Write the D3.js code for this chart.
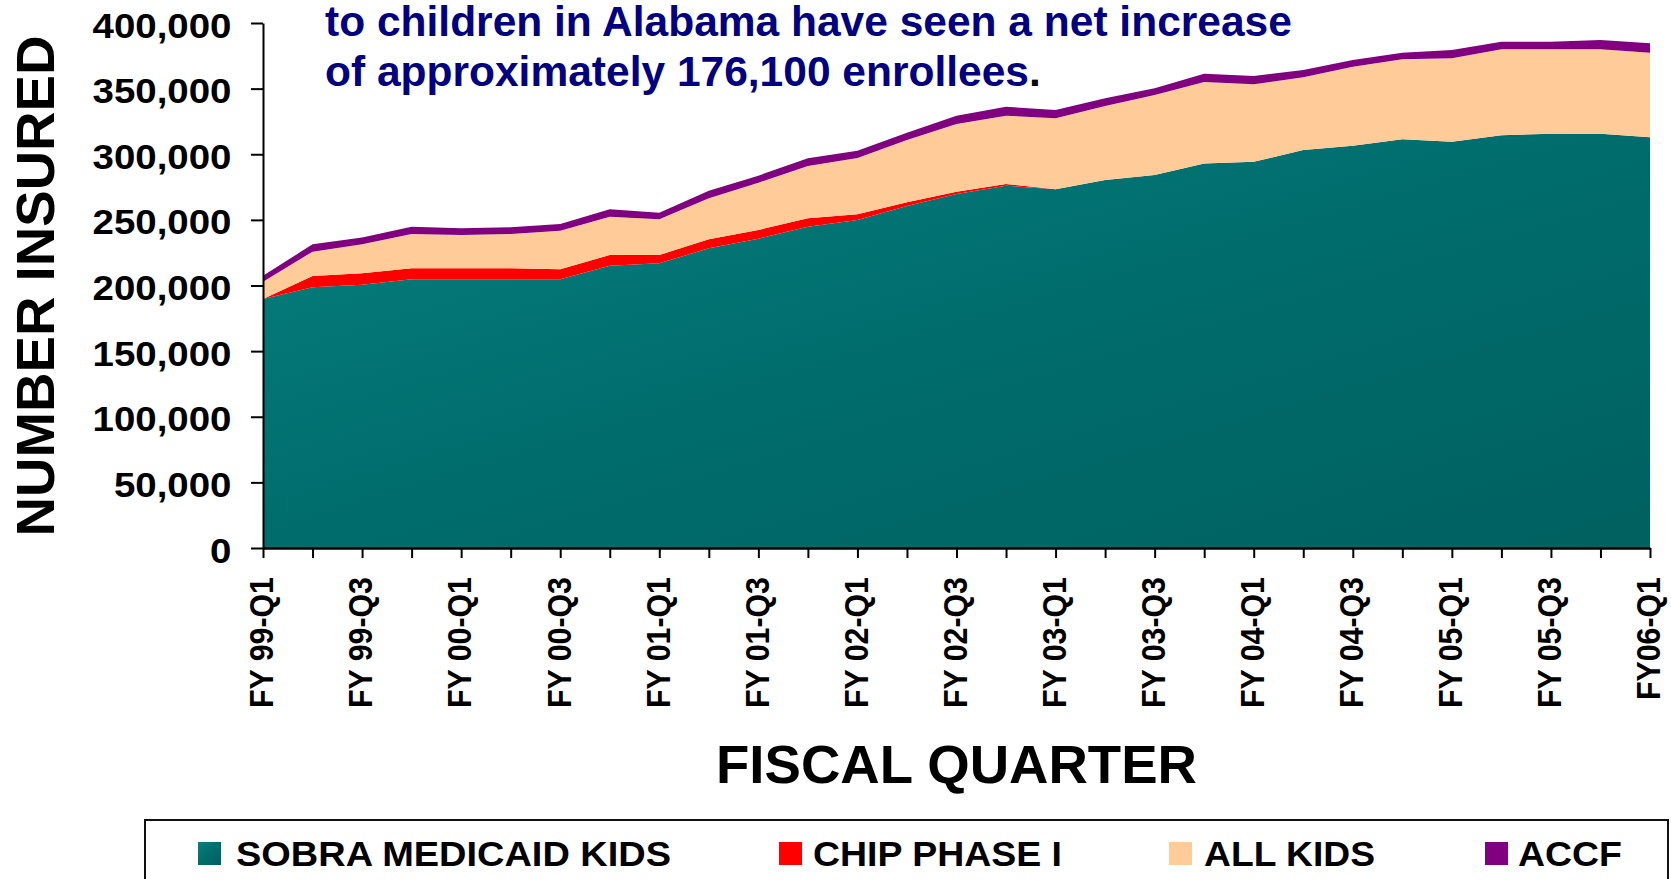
<!DOCTYPE html>
<html><head><meta charset="utf-8">
<script src="https://cdn.jsdelivr.net/npm/d3@7"></script>
<style>
html,body{margin:0;padding:0;background:#fff;overflow:hidden}
text{font-family:"Liberation Sans",Arial,sans-serif;font-weight:bold}
</style>
</head><body>
<svg id="c" width="1671" height="879"></svg>
<script>
const categories = ["FY 99-Q1","FY 99-Q2","FY 99-Q3","FY 99-Q4","FY 00-Q1","FY 00-Q2","FY 00-Q3","FY 00-Q4",
  "FY 01-Q1","FY 01-Q2","FY 01-Q3","FY 01-Q4","FY 02-Q1","FY 02-Q2","FY 02-Q3","FY 02-Q4",
  "FY 03-Q1","FY 03-Q2","FY 03-Q3","FY 03-Q4","FY 04-Q1","FY 04-Q2","FY 04-Q3","FY 04-Q4",
  "FY 05-Q1","FY 05-Q2","FY 05-Q3","FY 05-Q4","FY06-Q1"];
const tickLabels = ["FY 99-Q1","FY 99-Q3","FY 00-Q1","FY 00-Q3","FY 01-Q1","FY 01-Q3","FY 02-Q1","FY 02-Q3",
  "FY 03-Q1","FY 03-Q3","FY 04-Q1","FY 04-Q3","FY 05-Q1","FY 05-Q3","FY06-Q1"];
const yTicks = [0,50000,100000,150000,200000,250000,300000,350000,400000];

const sobra   = [189700,198600,200500,204700,204700,204700,204700,215100,216900,228300,235700,244800,249900,260600,269700,276000,273300,280400,284200,293000,294300,303200,306500,311400,309600,314400,315700,315700,312900];
const chip    = [0,8600,8800,8400,8400,8400,7600,8100,6300,6900,6600,6400,4300,2800,1800,1300,0,0,0,0,0,0,0,0,0,0,0,0,0];
const allKids = [13200,18600,22100,26100,25400,26100,29500,29200,27200,31200,36000,39800,42900,47500,51500,52100,54100,56400,60900,62000,59000,55400,60200,60900,63500,65600,64300,64300,64500];
const accf    = [4500,5600,5100,5600,5100,5100,5100,5700,5100,5800,5400,5900,5600,5500,6400,6800,6300,5800,5100,6400,6300,5600,5100,5100,6300,5800,5800,7000,7100];

const seriesNames  = ["SOBRA MEDICAID KIDS","CHIP PHASE I","ALL KIDS","ACCF"];
const seriesColors = ["url(#teal)","#FF0000","#FFCC99","#800080"];
const titleLine1 = "to children in Alabama have seen a net increase";
const titleLine2 = "of approximately 176,100 enrollees";

const svg = d3.select("#c");
const defs = svg.append("defs");
const g1 = defs.append("linearGradient").attr("id","teal").attr("x1",0).attr("y1",0).attr("x2",1).attr("y2",1);
g1.append("stop").attr("offset",0).attr("stop-color","#06817e");
g1.append("stop").attr("offset",0.5).attr("stop-color","#006c6c");
g1.append("stop").attr("offset",1).attr("stop-color","#006060");

const x = d3.scalePoint().domain(categories).range([263,1650]);
const y = d3.scaleLinear().domain([0,400000]).range([548,23]);

const rows = categories.map((c,i)=>({cat:c, sobra:sobra[i], chip:chip[i], allKids:allKids[i], accf:accf[i]}));
const keys = ["sobra","chip","allKids","accf"];
const stacked = d3.stack().keys(keys)(rows);
const area = d3.area().x(d=>x(d.data.cat)).y0(d=>y(d[0])).y1(d=>y(d[1]));
svg.append("g").selectAll("path").data(stacked).join("path")
  .attr("d",area).attr("fill",(d,i)=>seriesColors[i]);

// Y axis
const gy = svg.append("g").attr("transform","translate(263,0)")
  .call(d3.axisLeft(y).tickValues(yTicks).tickSize(12).tickSizeOuter(0).tickFormat(d3.format(",")));
gy.select(".domain").attr("stroke","#000").attr("stroke-width",2);
gy.selectAll(".tick line").attr("stroke","#000").attr("stroke-width",2);
gy.selectAll(".tick text").attr("x",null).attr("dy",null).attr("fill","#000")
  .attr("font-size",34.5).attr("font-family",null).attr("text-anchor","end")
  .attr("transform","translate(-31.5,14) scale(1.115,1)");

// X axis
const gx = svg.append("g").attr("transform","translate(0,548)")
  .call(d3.axisBottom(x).tickSize(10).tickSizeOuter(0)
    .tickFormat((d,i)=> i%2===0 ? tickLabels[i/2] : ""));
gx.select(".domain").attr("stroke","#000").attr("stroke-width",2.5);
gx.selectAll(".tick line").attr("stroke","#000").attr("stroke-width",2);
gx.selectAll(".tick text").attr("x",0).attr("y",9.8).attr("dy",null).attr("fill","#000")
  .attr("font-size",33).attr("font-family",null).attr("text-anchor","end")
  .attr("transform","translate(0,29) scale(1,0.92) rotate(-90)");

// Axis titles
svg.append("text").attr("transform","translate(54,286) rotate(-90)")
  .attr("x",-250.5).attr("y",0).attr("font-size",54)
  .attr("textLength",501).attr("lengthAdjust","spacingAndGlyphs").text("NUMBER INSURED");
svg.append("text").attr("x",716).attr("y",783).attr("font-size",53)
  .attr("textLength",481).attr("lengthAdjust","spacingAndGlyphs").text("FISCAL QUARTER");

// Title
const t1 = svg.append("text").attr("x",325).attr("y",36).attr("font-size",42.5).attr("fill","#000080").text(titleLine1);
const t2 = svg.append("text").attr("x",325).attr("y",86).attr("font-size",42.5).attr("fill","#000080");
t2.append("tspan").text(titleLine2);
t2.append("tspan").attr("fill","#000").text(".");

// Legend
svg.append("rect").attr("x",145).attr("y",820).attr("width",1523).attr("height",100)
  .attr("fill","#fff").attr("stroke","#111").attr("stroke-width",2);
const legendSwatchX = [198,779,1169,1485];
const legendTextX = [236,813,1204,1518];
const legendTextW = [435,249,171,104];
const lg = svg.append("g");
seriesNames.forEach((n,i)=>{
  lg.append("rect").attr("x",legendSwatchX[i]).attr("y",842).attr("width",23).attr("height",23).attr("fill",seriesColors[i]);
  lg.append("text").attr("x",legendTextX[i]).attr("y",865.5)
    .attr("font-size",35).attr("fill","#000")
    .attr("textLength",legendTextW[i]).attr("lengthAdjust","spacingAndGlyphs").text(n);
});
</script>
</body></html>
